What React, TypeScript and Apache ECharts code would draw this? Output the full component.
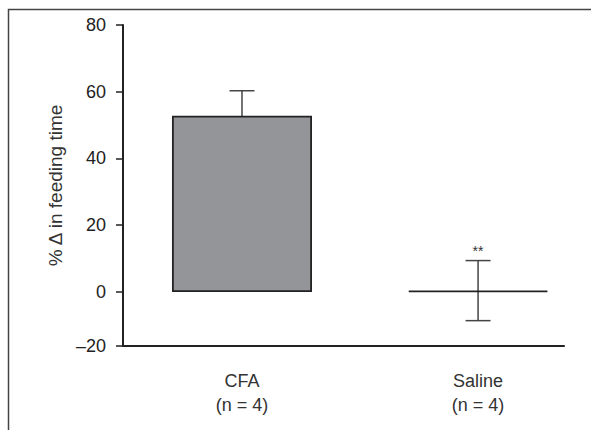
import React, { useEffect, useRef } from "react";
import * as echarts from "echarts";

const categories = ["CFA", "Saline"];
const sampleSizes = ["(n = 4)", "(n = 4)"];
const means = [52.8, 0.4];
const errors = [7.5, 9.0];
const significance = ["", "**"];
// Broken axis in the original: the bottom tick is labelled −20 but sits at about −16
const yTickValues = [-16.2, 0, 20, 40, 60, 80];
const yTickLabels = ["\u201320", "0", "20", "40", "60", "80"];

const FONT = "'Liberation Sans', Arial, Helvetica, sans-serif";

export default function App() {
  const ref = useRef<HTMLDivElement>(null);
  useEffect(() => {
    if (!ref.current) return;
    const chart = echarts.init(ref.current, undefined, { renderer: "svg" });
    const barData = means.map((m, i) => [i, m]);
    const errData = means.map((m, i) => [i, m, errors[i]]);
    chart.setOption({
      animation: false,
      backgroundColor: "#fff",
      textStyle: { fontFamily: FONT },
      grid: { left: 123, right: 27, top: 25, bottom: 84, outerBoundsMode: "none" },
      xAxis: {
        type: "value",
        min: -0.504,
        max: 1.364,
        splitLine: { show: false },
        axisLine: { show: true, onZero: false, lineStyle: { color: "#222", width: 2 } },
        axisTick: { show: false },
        axisLabel: {
          customValues: [0, 1],
          margin: 23,
          color: "#333",
          fontSize: 18,
          lineHeight: 24,
          fontFamily: FONT,
          formatter: (v: number) => {
            const i = Math.round(v);
            return categories[i] + "\n" + sampleSizes[i];
          },
        },
      },
      yAxis: {
        type: "value",
        min: -16.2,
        max: 80,
        name: "% \u0394 in feeding time",
        nameLocation: "middle",
        nameGap: 55,
        nameTextStyle: { color: "#333", fontSize: 19, fontFamily: FONT },
        splitLine: { show: false },
        axisLine: { show: true, onZero: false, lineStyle: { color: "#222", width: 2 } },
        axisTick: {
          show: true,
          customValues: yTickValues,
          length: 7,
          lineStyle: { color: "#222", width: 1.5 },
        },
        axisLabel: {
          customValues: yTickValues,
          margin: 17,
          color: "#222",
          fontSize: 18,
          fontFamily: FONT,
          formatter: (v: number) => {
            const idx = yTickValues.findIndex((t) => Math.abs(t - v) < 1e-6);
            return idx >= 0 ? yTickLabels[idx] : "";
          },
        },
      },
      series: [
        {
          type: "custom",
          z: 2,
          data: errData,
          renderItem: (params: any, api: any) => {
            const x = api.value(0);
            const m = api.value(1);
            const e = api.value(2);
            const top = api.coord([x, m + e]);
            const bot = api.coord([x, m - e]);
            const half = 12.5;
            const style = { stroke: "#444", lineWidth: 1.5 };
            const children: any[] = [
              { type: "line", shape: { x1: top[0], y1: top[1], x2: bot[0], y2: bot[1] }, style },
              { type: "line", shape: { x1: top[0] - half, y1: top[1], x2: top[0] + half, y2: top[1] }, style },
              { type: "line", shape: { x1: bot[0] - half, y1: bot[1], x2: bot[0] + half, y2: bot[1] }, style },
            ];
            const sig = significance[params.dataIndex];
            if (sig) {
              children.push({
                type: "text",
                style: {
                  text: sig,
                  x: top[0],
                  y: top[1] - 3,
                  align: "center",
                  verticalAlign: "bottom",
                  fontSize: 14,
                  fontFamily: FONT,
                  fill: "#333",
                },
              });
            }
            return { type: "group", children };
          },
        },
        {
          type: "bar",
          z: 3,
          data: barData,
          barWidth: 140,
          itemStyle: { color: "#939598", borderColor: "#222", borderWidth: 1.8 },
        },
      ],
      graphic: [
        {
          type: "rect",
          shape: { x: 8.5, y: 9.5, width: 700, height: 600 },
          style: { fill: "none", stroke: "#444", lineWidth: 1.5 },
          silent: true,
        },
      ],
    });
    return () => chart.dispose();
  }, []);
  return (
    <div
      ref={ref}
      style={{ position: "fixed", left: 0, top: 0, width: 591, height: 430 }}
    />
  );
}
